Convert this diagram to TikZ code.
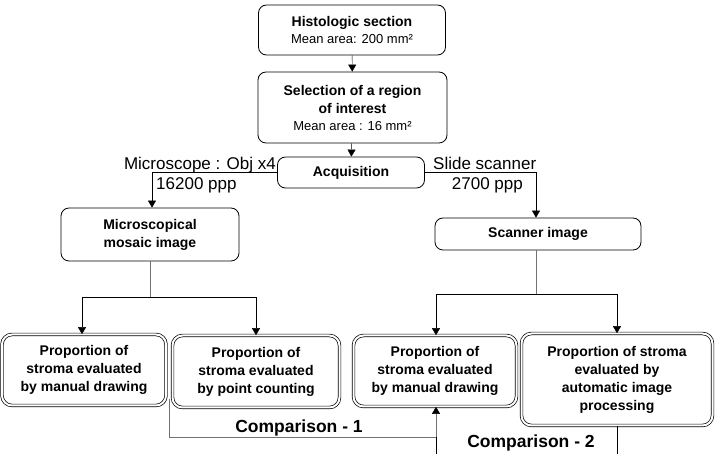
\documentclass[tikz,border=0pt]{standalone}
\usepackage{fontspec}
\setmainfont{Liberation Sans}
\usetikzlibrary{arrows.meta}

\tikzset{
  box/.style={draw, line width=0.8pt, rounded corners=8pt, align=center, inner sep=2pt,
    font=\bfseries\fontsize{14}{18}\selectfont},
  dbox/.style={box, double, double distance=2pt, line width=0.7pt, rounded corners=10pt},
  arr/.style={-{Triangle[width=8pt,length=7pt,black]}},
  stem/.style={draw=black!55},
  lbl/.style={font=\fontsize{17}{20}\selectfont, inner sep=0pt},
  cmp/.style={font=\bfseries\fontsize{17.5}{20}\selectfont, inner sep=0pt},
}
\newcommand{\areatxt}[1]{{\normalfont\fontsize{13}{17}\selectfont #1}}

\begin{document}
\begin{tikzpicture}[x=1pt, y=-1pt]

  \useasboundingbox (0,0) rectangle (724,454);
  \clip (0,0) rectangle (724,454);

  % Upper boxes
  \node[box, minimum width=187, minimum height=50] (hist) at (352,30)
    {Histologic section\\[-1pt]\areatxt{Mean area: 200 mm²}};
  \node[box, minimum width=189, minimum height=71] (roi) at (352.5,107.5)
    {Selection of a region\\of interest\\[-1pt]\areatxt{Mean area : 16 mm²}};
  \node[box, minimum width=147, minimum height=31] (acq) at (351,172.5) {Acquisition};

  % Image boxes
  \node[box, minimum width=178, minimum height=53] (mosaic) at (150,234.5)
    {Microscopical\\mosaic image};
  \node[box, minimum width=206, minimum height=32] (scan) at (538,234) {Scanner image};

  % Result boxes
  \node[dbox, minimum width=164, minimum height=71] (drawA) at (84,370)
    {Proportion of\\stroma evaluated\\by manual drawing};
  \node[dbox, minimum width=167, minimum height=72] (countB) at (256,371.5)
    {Proportion of\\stroma evaluated\\by point counting};
  \node[dbox, minimum width=163, minimum height=71] (drawC) at (435,371)
    {Proportion of\\stroma evaluated\\by manual drawing};
  \node[dbox, minimum width=191, minimum height=92] (autoD) at (617,379.5)
    {Proportion of stroma\\evaluated by\\automatic image\\processing};

  % Split points
  \coordinate (msplit) at (150,297);
  \coordinate (ssplit) at (536,294);
  \coordinate (cmpa) at ([xshift=-3pt,yshift=9pt]countB.south west);
  \coordinate (cmpb) at (436,437);
  \coordinate (cmpc) at (436,460);
  \coordinate (cmpd) at (617,460);

  % Connections
  \draw[arr] (hist) -- (roi);
  \draw[arr] (roi) -- (acq);
  \draw[arr] (acq.west) -| ([xshift=2pt]mosaic.north);
  \draw[arr] (acq.east) -| ([xshift=-2pt]scan.north);
  \draw[stem] (mosaic.south) -- (msplit);
  \draw[arr] (msplit) -| ([xshift=-2pt]drawA.north);
  \draw[arr] (msplit) -| (countB.north);
  \draw[stem] ([xshift=-2pt]scan.south) -- (ssplit);
  \draw[arr] (ssplit) -| ([xshift=1pt]drawC.north);
  \draw[arr] (ssplit) -| (autoD.north);
  \draw[stem, arr] (cmpa) |- (cmpb) -- ([xshift=1pt]drawC.south);
  \draw (cmpc) -- (cmpb);
  \draw (autoD.south) -- (cmpd);

  % Labels
  \node[lbl, anchor=base east] (microlbl) at (276,170) {Microscope : Obj x4};
  \node[lbl, anchor=base west] (microppp) at (156,190) {16200 ppp};
  \node[lbl, anchor=base west] (slidelbl) at (433,170) {Slide scanner};
  \node[lbl, anchor=base east] (slideppp) at (523,190) {2700 ppp};
  \node[cmp, anchor=base] (cmpone) at (299,433) {Comparison - 1};
  \node[cmp, anchor=base] (cmptwo) at (531,448) {Comparison - 2};

\end{tikzpicture}
\end{document}
